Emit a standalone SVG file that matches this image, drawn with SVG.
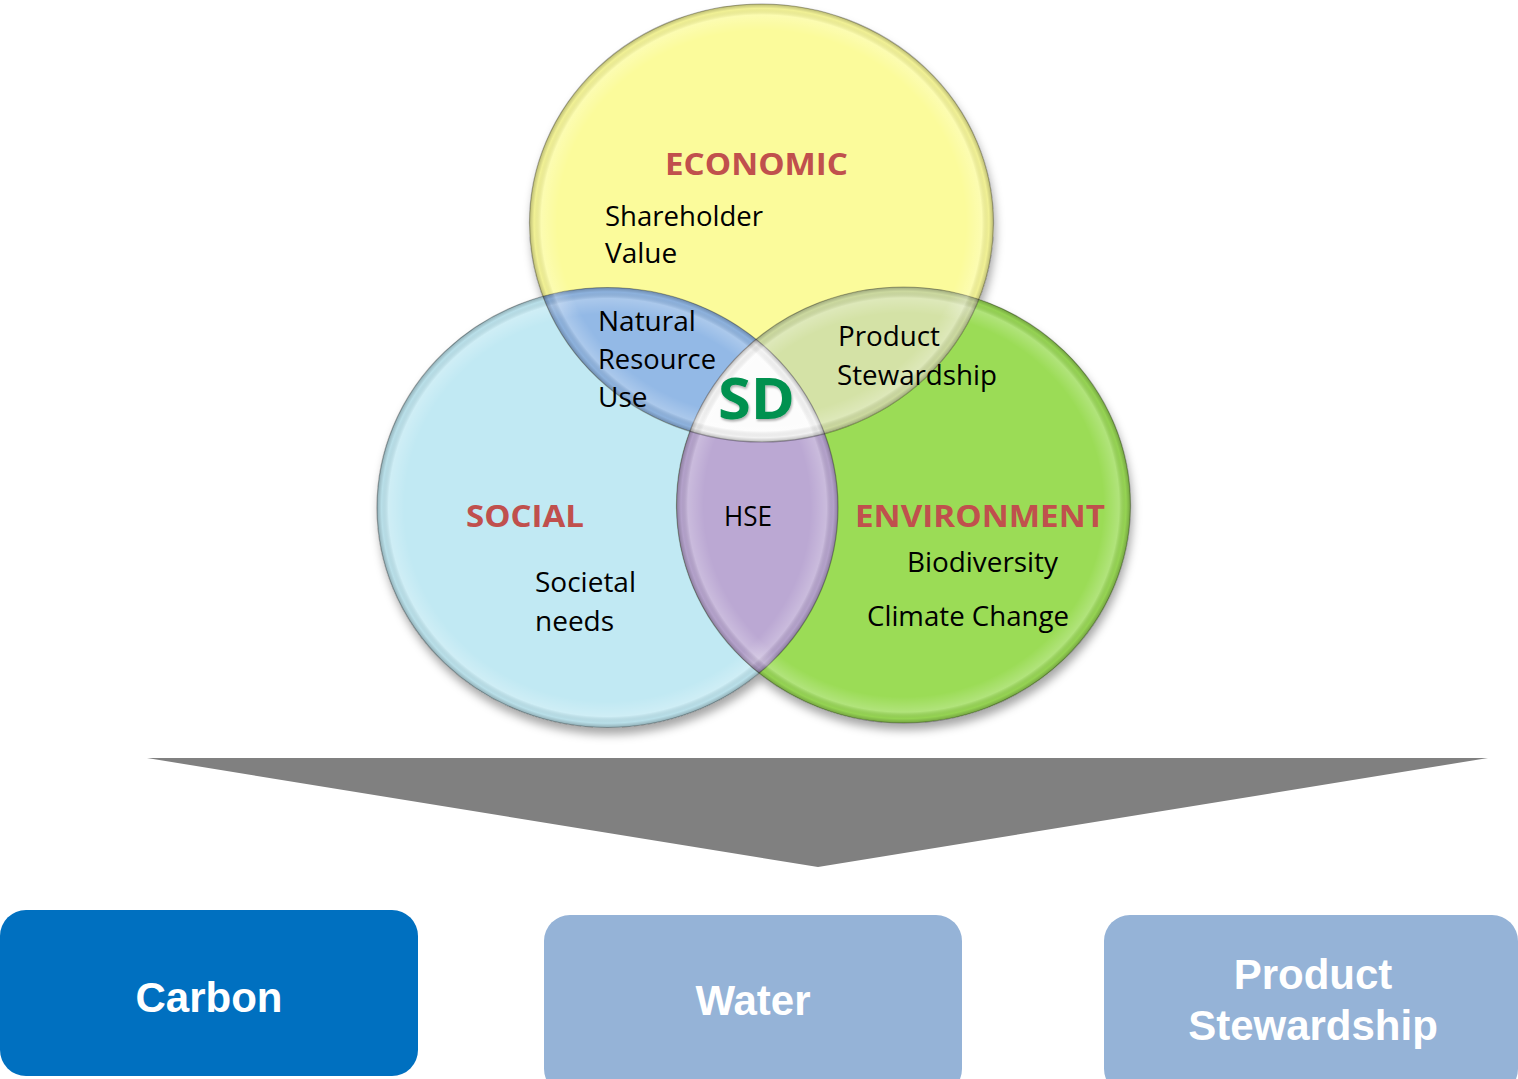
<svg xmlns="http://www.w3.org/2000/svg" width="1518" height="1079" viewBox="0 0 1518 1079">
<style>
.body{font-family:"Open Sans","Noto Sans","Liberation Sans",sans-serif;font-size:28px;fill:#000}
.head{font-family:"Open Sans","Noto Sans","Liberation Sans",sans-serif;font-size:31px;font-weight:bold;fill:#C0504D}
.box{font-family:"Liberation Sans",Arial,sans-serif;font-size:42px;font-weight:bold;fill:#fff;text-anchor:middle}
.rim{fill:url(#rim);stroke:#000;stroke-opacity:0.3;stroke-width:1.2}
</style>
<defs>
<ellipse id="eE" cx="761.5" cy="223" rx="232" ry="219"/>
<ellipse id="eS" cx="607.5" cy="507.5" rx="230.5" ry="220"/>
<ellipse id="eV" cx="903.5" cy="505" rx="227" ry="218"/>
<clipPath id="cE"><use href="#eE"/></clipPath>
<clipPath id="cS"><use href="#eS"/></clipPath>
<clipPath id="cV"><use href="#eV"/></clipPath>
<radialGradient id="rim" cx="50%" cy="50%" r="50%">
<stop offset="0" stop-color="#fff" stop-opacity="0"/>
<stop offset="0.88" stop-color="#fff" stop-opacity="0"/>
<stop offset="0.95" stop-color="#fff" stop-opacity="0.22"/>
<stop offset="0.98" stop-color="#000" stop-opacity="0.04"/>
<stop offset="1" stop-color="#000" stop-opacity="0.25"/>
</radialGradient>
<filter id="shadow" x="-10%" y="-10%" width="120%" height="125%">
<feDropShadow dx="2" dy="7" stdDeviation="5" flood-color="#000" flood-opacity="0.35"/>
</filter>
<filter id="tsh" x="-10%" y="-10%" width="120%" height="130%">
<feDropShadow dx="1" dy="2" stdDeviation="1.2" flood-color="#000" flood-opacity="0.3"/>
</filter>
</defs>

<g id="venn-base" filter="url(#shadow)">
<use id="social-fill" href="#eS" fill="#C1E9F3"/>
<use id="environment-fill" href="#eV" fill="#9BDC57"/>
<use id="economic-fill" href="#eE" fill="#FBFB9B"/>
</g>

<g id="natural-resource-use" clip-path="url(#cE)"><use href="#eS" fill="#93B9E6"/></g>
<g id="product-stewardship-region" clip-path="url(#cE)"><use href="#eV" fill="#D4E2A6"/></g>
<g id="hse" clip-path="url(#cS)"><use href="#eV" fill="#BBA8D3"/></g>
<g id="sd" clip-path="url(#cS)"><g clip-path="url(#cV)"><use href="#eE" fill="#FCFCFC"/></g></g>

<g id="rims">
<use href="#eS" class="rim"/>
<use href="#eV" class="rim"/>
<use href="#eE" class="rim"/>
</g>

<g id="economic">
<text class="head" x="665" y="175" textLength="183" lengthAdjust="spacingAndGlyphs">ECONOMIC</text>
<text class="body" x="605" y="226" textLength="158" lengthAdjust="spacingAndGlyphs">Shareholder</text>
<text class="body" x="605" y="263">Value</text>
</g>
<g id="social">
<text class="head" x="466" y="527" textLength="118" lengthAdjust="spacingAndGlyphs">SOCIAL</text>
<text class="body" x="535" y="592" textLength="101" lengthAdjust="spacingAndGlyphs">Societal</text>
<text class="body" x="535" y="631">needs</text>
</g>
<g id="environment">
<text class="head" x="855" y="527" textLength="250" lengthAdjust="spacingAndGlyphs">ENVIRONMENT</text>
<text class="body" x="907" y="572" textLength="151" lengthAdjust="spacingAndGlyphs">Biodiversity</text>
<text class="body" x="867" y="626" textLength="202" lengthAdjust="spacingAndGlyphs">Climate Change</text>
</g>
<g id="nru-label">
<text class="body" x="598" y="331">Natural</text>
<text class="body" x="598" y="369" textLength="118" lengthAdjust="spacingAndGlyphs">Resource</text>
<text class="body" x="598" y="407">Use</text>
</g>
<g id="ps-label">
<text class="body" x="838" y="346" textLength="102" lengthAdjust="spacingAndGlyphs">Product</text>
<text class="body" x="837" y="385" textLength="160" lengthAdjust="spacingAndGlyphs">Stewardship</text>
</g>
<g id="hse-label">
<text class="body" x="724" y="526" textLength="48" lengthAdjust="spacingAndGlyphs">HSE</text>
</g>
<g id="sd-label">
<text x="718" y="419" textLength="77" lengthAdjust="spacingAndGlyphs" font-family="'Open Sans','Noto Sans',sans-serif" font-size="57" font-weight="bold" fill="#009150" filter="url(#tsh)">SD</text>
</g>

<g id="connectors">
<polygon points="147,758 1488,758 818,867" fill="#808080"/>
</g>

<g id="carbon">
<rect x="0" y="910" width="418" height="166" rx="26" fill="#0070C0"/>
<text class="box" x="209" y="1012">Carbon</text>
</g>
<g id="water">
<rect x="544" y="915" width="418" height="180" rx="26" fill="#95B3D7"/>
<text class="box" x="753" y="1015">Water</text>
</g>
<g id="product-stewardship">
<rect x="1104" y="915" width="414" height="180" rx="26" fill="#95B3D7"/>
<text class="box" x="1313" y="989">Product</text>
<text class="box" x="1313" y="1040">Stewardship</text>
</g>
</svg>
